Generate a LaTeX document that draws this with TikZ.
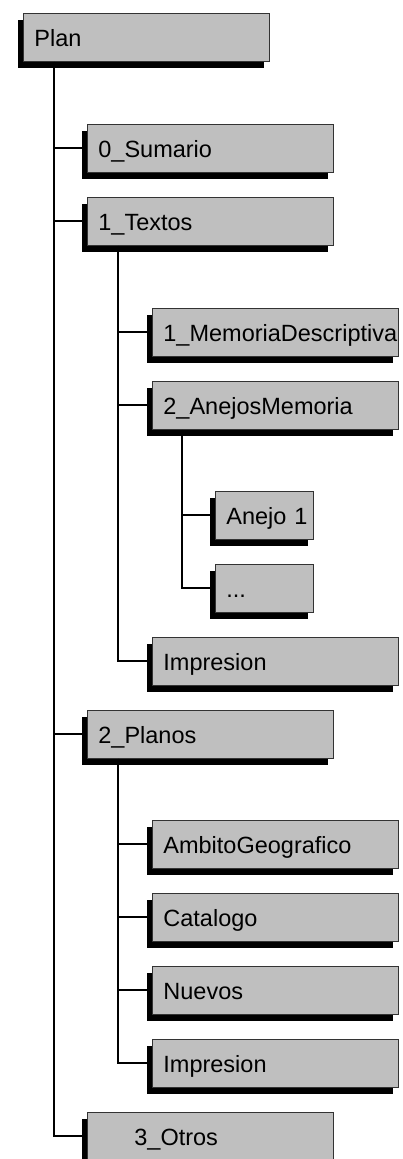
\documentclass[tikz,border=0pt]{standalone}
\usepackage{fontspec}
\setmainfont{Liberation Sans}
\usepackage{tikz}
\usetikzlibrary{shadows}
\hyphenpenalty=10000

\begin{document}
\begin{tikzpicture}[x=1pt, y=-1pt]
		\tikzset{folder/.style={shape = rectangle, anchor = north west, draw = black!80, line width = 0.8pt,
				fill = black!25, minimum width = 246pt, minimum height = 48pt,
				inner xsep = 11pt, text width = 224pt, align = left,
				text height = 20pt, text depth = 2pt,
				font = \fontsize{23.5pt}{28pt}\selectfont,
				general shadow = {fill = black, shadow xshift = -5pt, shadow yshift = -6.5pt}}}
		\tikzset{small folder/.style={folder, minimum width = 98pt, text width = 76pt}}
		\tikzset{branch/.style={draw = black, line width = 2pt}}
		\clip (0, 0) rectangle (402, 1159);
		%folders
		\node[folder] (plan) at (23, 13) {Plan};
		\node[folder] (sumario) at (87, 124) {0\_Sumario};
		\node[folder] (textos) at (87, 197) {1\_Textos};
		\node[folder] (memoria) at (152, 308) {1\_MemoriaDescriptiva};
		\node[folder] (anejos) at (152, 381) {2\_AnejosMemoria};
		\node[small folder] (anejo1) at (215, 491) {Anejo~1};
		\node[small folder] (puntos) at (215, 564) {...};
		\node[folder] (impresiontextos) at (152, 637) {Impresion};
		\node[folder] (planos) at (87, 710) {2\_Planos};
		\node[folder] (ambito) at (152, 820) {AmbitoGeografico};
		\node[folder] (catalogo) at (152, 893) {Catalogo};
		\node[folder] (nuevos) at (152, 966) {Nuevos};
		\node[folder] (impresionplanos) at (152, 1039) {Impresion};
		\node[folder] (otros) at (87, 1112) {\hspace*{36pt}3\_Otros};
		%branches
		\draw[branch] ([xshift = 31pt]plan.south west) |- (sumario.west);
		\draw[branch] ([xshift = 31pt]plan.south west) |- (textos.west);
		\draw[branch] ([xshift = 31pt]plan.south west) |- (planos.west);
		\draw[branch] ([xshift = 31pt]plan.south west) |- (otros.west);
		\draw[branch] ([xshift = 31pt]textos.south west) |- (memoria.west);
		\draw[branch] ([xshift = 31pt]textos.south west) |- (anejos.west);
		\draw[branch] ([xshift = 31pt]textos.south west) |- (impresiontextos.west);
		\draw[branch] ([xshift = 30pt]anejos.south west) |- (anejo1.west);
		\draw[branch] ([xshift = 30pt]anejos.south west) |- (puntos.west);
		\draw[branch] ([xshift = 31pt]planos.south west) |- (ambito.west);
		\draw[branch] ([xshift = 31pt]planos.south west) |- (catalogo.west);
		\draw[branch] ([xshift = 31pt]planos.south west) |- (nuevos.west);
		\draw[branch] ([xshift = 31pt]planos.south west) |- (impresionplanos.west);
\end{tikzpicture}
\end{document}
